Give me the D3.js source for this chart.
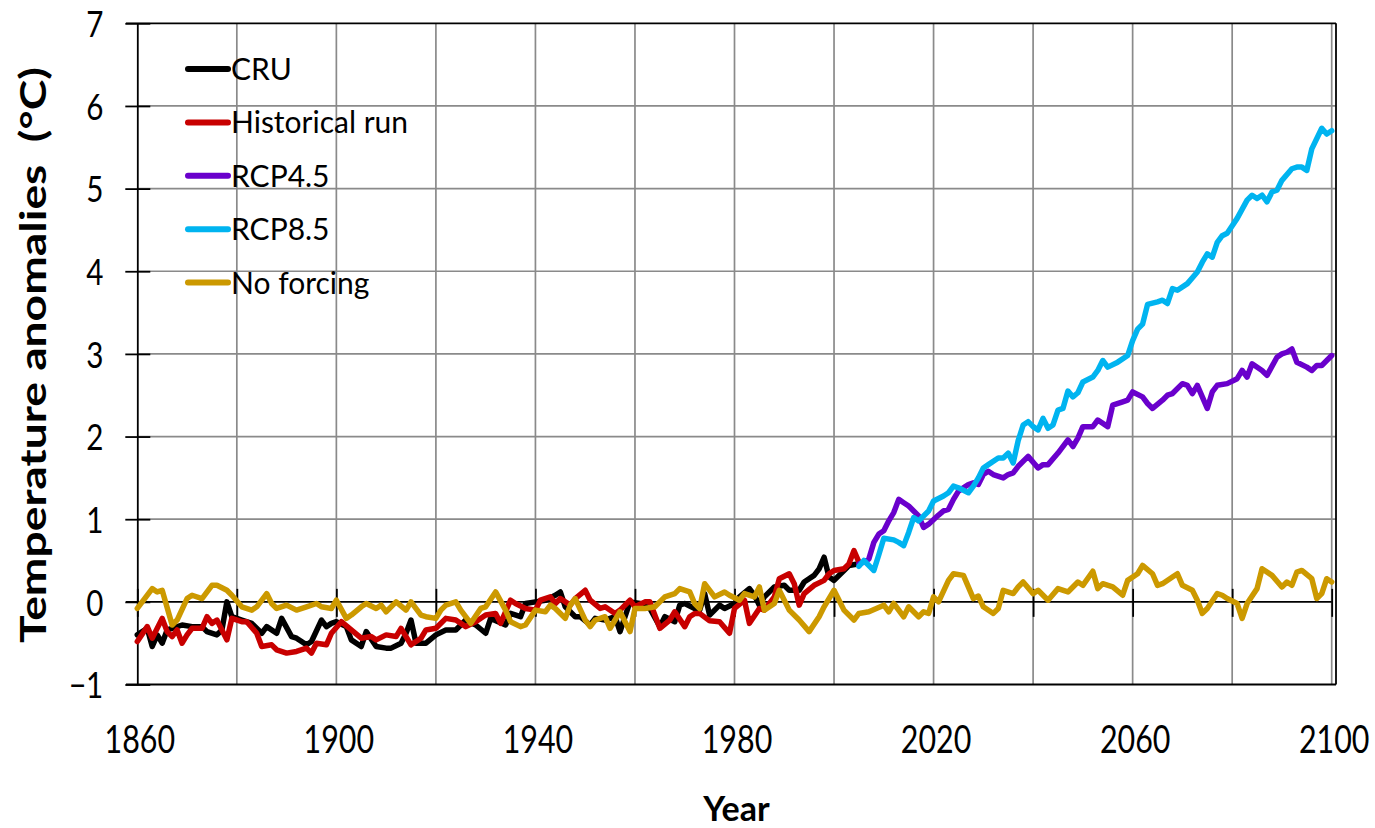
<!DOCTYPE html>
<html>
<head>
<meta charset="utf-8">
<script src="https://cdn.jsdelivr.net/npm/d3@7"></script>
<style>
  html, body { margin: 0; padding: 0; background: #ffffff; }
  svg { display: block; font-family: Lato, "Open Sans", sans-serif; }
</style>
</head>
<body>
<svg id="chart" width="1375" height="828"></svg>
<script>
// Annual global temperature anomalies (°C), [year, value]
const cru = [
  [1860,-0.40],[1862,-0.32],[1863,-0.54],[1864,-0.40],[1865,-0.50],[1866,-0.34],[1867,-0.32],
  [1869,-0.28],[1871,-0.30],[1873,-0.30],[1874,-0.36],[1876,-0.40],[1877,-0.34],[1878,0.00],
  [1879,-0.18],[1881,-0.22],[1883,-0.26],[1885,-0.38],[1886,-0.30],[1888,-0.38],[1889,-0.20],
  [1891,-0.42],[1892,-0.44],[1894,-0.52],[1895,-0.48],[1897,-0.22],[1898,-0.30],[1899,-0.26],
  [1900,-0.24],[1902,-0.30],[1903,-0.46],[1905,-0.54],[1906,-0.36],[1908,-0.54],[1910,-0.56],
  [1911,-0.56],[1913,-0.50],[1914,-0.38],[1915,-0.22],[1916,-0.50],[1918,-0.50],[1920,-0.40],
  [1922,-0.34],[1924,-0.34],[1926,-0.22],[1928,-0.28],[1930,-0.38],[1931,-0.20],[1934,-0.28],
  [1935,-0.14],[1937,-0.18],[1938,-0.02],[1940,0.00],[1942,0.02],[1944,0.08],[1945,0.12],
  [1946,-0.06],[1948,-0.18],[1949,-0.18],[1951,-0.28],[1952,-0.20],[1954,-0.22],[1956,-0.18],
  [1957,-0.36],[1958,-0.18],[1959,0.00],[1961,-0.02],[1963,-0.08],[1965,-0.30],[1966,-0.18],
  [1968,-0.24],[1969,-0.04],[1970,-0.02],[1972,-0.08],[1973,-0.10],[1974,0.10],[1975,-0.16],
  [1976,-0.10],[1977,-0.04],[1978,-0.08],[1980,-0.02],[1981,0.06],[1983,0.16],[1984,0.08],
  [1985,-0.04],[1986,0.06],[1988,0.18],[1990,0.20],[1991,0.14],[1993,0.14],[1994,0.24],
  [1996,0.32],[1997,0.40],[1998,0.54],[1999,0.30],[2000,0.26],[2002,0.38],[2003,0.44],[2005,0.46]
];

const historical = [
  [1860,-0.48],[1862,-0.30],[1863,-0.44],[1865,-0.20],[1866,-0.36],[1867,-0.42],[1868,-0.34],
  [1869,-0.50],[1870,-0.40],[1871,-0.32],[1873,-0.32],[1874,-0.18],[1875,-0.26],[1876,-0.22],
  [1878,-0.46],[1879,-0.20],[1881,-0.24],[1882,-0.24],[1884,-0.38],[1885,-0.54],[1887,-0.52],
  [1888,-0.58],[1890,-0.62],[1892,-0.60],[1894,-0.56],[1895,-0.62],[1896,-0.50],[1898,-0.52],
  [1899,-0.38],[1901,-0.24],[1903,-0.34],[1905,-0.44],[1907,-0.42],[1908,-0.46],[1910,-0.40],
  [1912,-0.42],[1913,-0.32],[1915,-0.52],[1917,-0.44],[1918,-0.34],[1920,-0.32],[1922,-0.20],
  [1924,-0.22],[1926,-0.30],[1928,-0.24],[1930,-0.16],[1932,-0.14],[1933,-0.26],[1935,0.02],
  [1936,-0.02],[1938,-0.08],[1940,-0.10],[1941,0.02],[1943,0.06],[1944,-0.02],[1945,0.04],
  [1947,-0.04],[1948,0.04],[1950,0.14],[1951,0.02],[1953,-0.08],[1954,-0.06],[1956,-0.14],
  [1957,-0.10],[1959,0.02],[1960,-0.06],[1962,0.00],[1963,0.00],[1965,-0.32],[1967,-0.22],
  [1968,-0.12],[1970,-0.30],[1971,-0.18],[1972,-0.14],[1973,-0.14],[1975,-0.23],[1977,-0.24],
  [1979,-0.38],[1980,-0.08],[1982,0.02],[1983,-0.26],[1985,-0.08],[1986,-0.10],[1988,0.06],
  [1989,0.28],[1991,0.34],[1992,0.22],[1993,-0.04],[1994,0.10],[1996,0.20],[1998,0.26],
  [1999,0.34],[2000,0.38],[2002,0.40],[2003,0.46],[2004,0.62],[2005,0.48]
];

const rcp45 = [
  [2005,0.46],[2006,0.48],[2007,0.52],[2008,0.72],[2009,0.82],[2010,0.86],[2011,0.98],[2012,1.08],
  [2013,1.24],[2014,1.20],[2015,1.16],[2016,1.10],[2017,1.04],[2018,0.90],[2019,0.94],[2021,1.05],
  [2022,1.10],[2023,1.12],[2024,1.24],[2025,1.34],[2027,1.42],[2028,1.44],[2029,1.42],[2030,1.54],
  [2031,1.58],[2032,1.54],[2034,1.50],[2035,1.54],[2036,1.56],[2037,1.64],[2039,1.76],[2041,1.62],
  [2042,1.66],[2043,1.66],[2045,1.80],[2047,1.96],[2048,1.88],[2049,1.98],[2050,2.12],[2052,2.12],
  [2053,2.20],[2055,2.12],[2056,2.38],[2058,2.42],[2059,2.44],[2060,2.54],[2062,2.48],[2063,2.40],
  [2064,2.34],[2066,2.44],[2067,2.50],[2068,2.52],[2070,2.64],[2071,2.62],[2072,2.52],[2073,2.62],
  [2074,2.48],[2075,2.34],[2076,2.54],[2077,2.62],[2079,2.64],[2081,2.70],[2082,2.80],[2083,2.72],
  [2084,2.88],[2086,2.80],[2087,2.74],[2089,2.96],[2090,3.00],[2091,3.02],[2092,3.06],[2093,2.90],
  [2095,2.84],[2096,2.80],[2097,2.86],[2098,2.86],[2100,2.98]
];

const rcp85 = [
  [2005,0.43],[2006,0.50],[2008,0.38],[2009,0.57],[2010,0.77],[2012,0.75],[2013,0.72],[2014,0.68],
  [2015,0.84],[2016,1.02],[2017,0.98],[2019,1.10],[2020,1.22],[2022,1.28],[2023,1.32],[2024,1.40],
  [2025,1.38],[2027,1.32],[2028,1.40],[2029,1.50],[2030,1.62],[2031,1.66],[2033,1.74],[2034,1.74],
  [2035,1.80],[2036,1.68],[2037,1.95],[2038,2.14],[2039,2.18],[2040,2.12],[2041,2.08],[2042,2.22],
  [2043,2.10],[2044,2.14],[2045,2.32],[2046,2.34],[2047,2.55],[2048,2.48],[2049,2.53],[2050,2.66],
  [2052,2.72],[2053,2.80],[2054,2.92],[2055,2.84],[2057,2.90],[2059,2.98],[2060,3.16],[2061,3.30],
  [2062,3.36],[2063,3.60],[2065,3.63],[2066,3.65],[2067,3.61],[2068,3.79],[2069,3.77],[2071,3.85],
  [2073,3.99],[2074,4.11],[2075,4.21],[2076,4.17],[2077,4.35],[2078,4.43],[2079,4.46],[2081,4.64],
  [2083,4.86],[2084,4.92],[2085,4.88],[2086,4.92],[2087,4.84],[2088,4.96],[2089,4.98],[2090,5.10],
  [2092,5.24],[2093,5.26],[2094,5.26],[2095,5.22],[2096,5.48],[2098,5.73],[2099,5.66],[2100,5.70]
];

const noForcing = [
  [1860,-0.08],[1863,0.16],[1864,0.12],[1865,0.14],[1867,-0.28],[1868,-0.22],[1870,0.04],[1871,0.08],
  [1873,0.04],[1875,0.20],[1876,0.20],[1878,0.14],[1879,0.08],[1881,-0.06],[1883,-0.10],[1884,-0.06],
  [1886,0.10],[1887,-0.02],[1888,-0.08],[1890,-0.04],[1892,-0.10],[1894,-0.06],[1896,-0.02],[1897,-0.06],
  [1899,-0.08],[1900,0.02],[1902,-0.20],[1903,-0.16],[1905,-0.06],[1906,-0.02],[1908,-0.08],[1909,-0.04],
  [1910,-0.12],[1912,0.00],[1914,-0.10],[1915,0.00],[1917,-0.16],[1918,-0.18],[1920,-0.20],[1921,-0.10],
  [1922,-0.04],[1924,0.00],[1925,-0.10],[1927,-0.26],[1929,-0.08],[1930,-0.06],[1932,0.12],[1934,-0.10],
  [1935,-0.24],[1937,-0.30],[1938,-0.28],[1940,-0.10],[1942,-0.12],[1943,-0.04],[1944,-0.08],[1946,-0.20],
  [1947,-0.04],[1948,0.04],[1950,-0.22],[1951,-0.30],[1952,-0.22],[1954,-0.18],[1955,-0.32],[1956,-0.22],
  [1957,-0.12],[1959,-0.36],[1960,-0.08],[1962,-0.08],[1964,-0.06],[1966,0.06],[1968,0.10],[1969,0.16],
  [1971,0.12],[1972,-0.02],[1973,-0.08],[1974,0.22],[1976,0.06],[1978,0.12],[1979,0.08],[1981,0.02],
  [1982,0.10],[1984,0.06],[1985,0.18],[1986,-0.10],[1988,-0.02],[1989,0.14],[1991,-0.10],[1993,-0.22],
  [1995,-0.36],[1997,-0.18],[1998,-0.06],[2000,0.14],[2002,-0.10],[2004,-0.22],[2005,-0.14],[2007,-0.12],
  [2010,-0.04],[2011,-0.12],[2012,-0.02],[2014,-0.18],[2015,-0.06],[2017,-0.18],[2018,-0.12],[2019,-0.14],
  [2020,0.06],[2021,0.00],[2023,0.26],[2024,0.34],[2026,0.32],[2028,0.04],[2029,0.07],[2030,-0.06],
  [2032,-0.14],[2033,-0.08],[2034,0.14],[2036,0.10],[2037,0.18],[2038,0.24],[2040,0.10],[2041,0.14],
  [2043,0.02],[2045,0.16],[2047,0.12],[2049,0.24],[2050,0.20],[2052,0.37],[2053,0.16],[2054,0.22],
  [2056,0.18],[2058,0.08],[2059,0.26],[2061,0.34],[2062,0.44],[2064,0.34],[2065,0.20],[2066,0.22],
  [2068,0.30],[2069,0.34],[2070,0.20],[2072,0.14],[2073,0.02],[2074,-0.14],[2075,-0.08],[2077,0.10],
  [2078,0.08],[2079,0.04],[2081,-0.02],[2082,-0.20],[2083,-0.02],[2085,0.16],[2086,0.40],[2088,0.32],
  [2090,0.18],[2091,0.24],[2092,0.20],[2093,0.36],[2094,0.38],[2096,0.28],[2097,0.04],[2098,0.10],
  [2099,0.28],[2100,0.24]
];

const seriesNames  = ["CRU", "Historical run", "RCP4.5", "RCP8.5", "No forcing"];
const seriesColors = ["#000000", "#c80000", "#6a00cc", "#00b4f0", "#cc9900"];
const seriesData   = [cru, historical, rcp45, rcp85, noForcing];

const xTickLabels = [1860, 1900, 1940, 1980, 2020, 2060, 2100];
const xGridYears  = d3.range(1860, 2101, 20);
const yTickValues = d3.range(-1, 8, 1);

// ---- layout ----
const svg = d3.select("#chart");
const plotLeft = 137.3, plotRight = 1331.7, plotTop = 23.3, plotBottom = 684.5, frameRight = 1336;

const x = d3.scaleLinear().domain([1860, 2100]).range([plotLeft, plotRight]);
const y = d3.scaleLinear().domain([-1, 7]).range([plotBottom, plotTop]);

const gridColor = "#8a8a8a";

// vertical grid lines
svg.append("g").selectAll("line")
  .data(xGridYears.filter(d => d > 1860))
  .join("line")
  .attr("x1", d => x(d)).attr("x2", d => x(d))
  .attr("y1", plotTop).attr("y2", plotBottom)
  .attr("stroke", gridColor).attr("stroke-width", 1.7);

// horizontal grid lines
svg.append("g").selectAll("line")
  .data(yTickValues.filter(d => d > -1 && d < 7 && d !== 0))
  .join("line")
  .attr("x1", plotLeft).attr("x2", frameRight)
  .attr("y1", d => y(d)).attr("y2", d => y(d))
  .attr("stroke", gridColor).attr("stroke-width", 1.7);

// frame
const frame = svg.append("g").attr("stroke", "#000").attr("stroke-width", 1.8);
frame.append("line").attr("x1", 126).attr("x2", frameRight).attr("y1", plotTop).attr("y2", plotTop);
frame.append("line").attr("x1", 126).attr("x2", frameRight).attr("y1", plotBottom).attr("y2", plotBottom);
frame.append("line").attr("x1", frameRight).attr("x2", frameRight).attr("y1", plotTop).attr("y2", plotBottom);

// y axis with crossing ticks
const yAxis = svg.append("g")
  .attr("transform", `translate(${plotLeft},0)`)
  .call(d3.axisLeft(y).tickValues(yTickValues).tickSizeInner(12).tickSizeOuter(0).tickPadding(22)
        .tickFormat(d3.format("d")));
yAxis.select(".domain").attr("stroke", "#000").attr("stroke-width", 1.8);
yAxis.selectAll(".tick line").attr("x1", 13).attr("stroke", "#000").attr("stroke-width", 1.8);
yAxis.selectAll(".tick text")
  .attr("x", 0)
  .attr("dy", "0.36em")
  .attr("transform", "translate(-34,0) scale(0.8,1)")
  .attr("font-size", 37).attr("fill", "#000")
  .attr("font-family", "Lato, sans-serif");

// zero line acting as the horizontal axis, with crossing ticks
const zeroAxis = svg.append("g")
  .attr("transform", `translate(0,${y(0)})`)
  .call(d3.axisBottom(x).tickValues(xGridYears).tickSizeInner(15).tickSizeOuter(0).tickFormat(""));
zeroAxis.select(".domain").attr("stroke", "#000").attr("stroke-width", 1.8)
  .attr("d", `M126,0H${plotRight}`);
zeroAxis.selectAll(".tick line").attr("y1", -13).attr("stroke", "#000").attr("stroke-width", 1.8);

// year labels along the bottom
const xLabels = svg.append("g")
  .attr("transform", `translate(0,${plotBottom})`)
  .call(d3.axisBottom(x).tickValues(xTickLabels).tickSize(0).tickPadding(42).tickFormat(d3.format("d")));
xLabels.select(".domain").remove();
xLabels.selectAll(".tick text")
  .attr("transform", "translate(2,0) scale(0.8,1)")
  .attr("font-size", 38).attr("fill", "#000")
  .attr("font-family", "Lato, sans-serif");

// series lines
const line = d3.line().x(d => x(d[0])).y(d => y(d[1])).curve(d3.curveLinear);
svg.append("g").selectAll("path")
  .data(seriesData)
  .join("path")
  .attr("d", line)
  .attr("fill", "none")
  .attr("stroke", (d, i) => seriesColors[i])
  .attr("stroke-width", 5.5)
  .attr("stroke-linejoin", "round")
  .attr("stroke-linecap", "round");

// legend
const legend = svg.append("g").attr("transform", "translate(188,69)");
const rows = legend.selectAll("g")
  .data(seriesNames)
  .join("g")
  .attr("transform", (d, i) => `translate(0,${i * 53.4})`);
rows.append("line")
  .attr("x1", 0).attr("x2", 40).attr("y1", 0).attr("y2", 0)
  .attr("stroke", (d, i) => seriesColors[i])
  .attr("stroke-width", 6).attr("stroke-linecap", "round");
rows.append("text")
  .attr("x", 43).attr("y", 11)
  .attr("font-size", 30).attr("fill", "#000")
  .attr("font-family", "Lato, sans-serif")
  .text(d => d);

// axis titles
svg.append("text")
  .attr("transform", `translate(${(plotLeft + plotRight) / 2 + 2},821)`)
  .attr("text-anchor", "middle")
  .attr("font-size", 34).attr("font-weight", "bold")
  .attr("font-family", "Lato, sans-serif")
  .text("Year");

svg.append("text")
  .attr("transform", "translate(46,355) rotate(-90) scale(1.1,0.85)")
  .attr("text-anchor", "middle")
  .attr("font-size", 42).attr("font-weight", "bold")
  .attr("font-family", "Lato, sans-serif")
  .attr("xml:space", "preserve")
  .text("Temperature anomalies  (°C)");
</script>
</body>
</html>
